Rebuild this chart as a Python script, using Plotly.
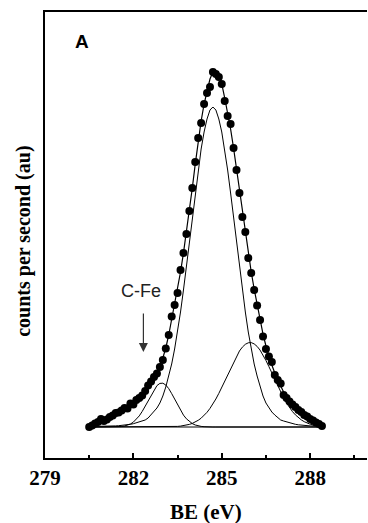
import plotly.graph_objects as go

# Binding energy grid of the C 1s scan (eV)
be_ev = [280.5, 280.6, 280.7, 280.8, 280.9, 281.0, 281.1, 281.2, 281.3, 281.4,
         281.5, 281.6, 281.7, 281.8, 281.9, 282.0, 282.1, 282.2, 282.3, 282.4,
         282.5, 282.6, 282.7, 282.8, 282.9, 283.0, 283.1, 283.2, 283.3, 283.4,
         283.5, 283.6, 283.7, 283.8, 283.9, 284.0, 284.1, 284.2, 284.3, 284.4,
         284.5, 284.6, 284.7, 284.8, 284.9, 285.0, 285.1, 285.2, 285.3, 285.4,
         285.5, 285.6, 285.7, 285.8, 285.9, 286.0, 286.1, 286.2, 286.3, 286.4,
         286.5, 286.6, 286.7, 286.8, 286.9, 287.0, 287.1, 287.2, 287.3, 287.4,
         287.5, 287.6, 287.7, 287.8, 287.9, 288.0, 288.1, 288.2, 288.3, 288.4]

# Measured counts (au)
measured = [31, 32.5, 34.5, 36, 39, 37, 38.5, 41, 42.5, 45,
            45.5, 47.5, 50, 49.5, 54.5, 53.5, 58, 60, 62.5, 67,
            72.5, 76.5, 81, 84.5, 91, 98, 109.5, 123, 141.5, 153,
            165, 188, 205, 224, 247, 270, 296, 320, 335, 354,
            365, 371, 386, 384, 381, 374, 357, 342, 334, 310,
            288, 265, 241, 226, 200, 185, 168, 152.5, 138, 121.5,
            109, 101.5, 96, 83, 78, 74.5, 63, 60, 56.5, 53.5,
            51, 48, 46, 43, 41.5, 39, 37.5, 35.5, 34, 32]

# Fitted envelope (au)
envelope = [31, 32.5, 34, 35.5, 37, 38.5, 39.5, 41, 42.5, 44,
            45.5, 47, 49, 50.5, 52.5, 54.5, 57, 59.5, 62.5, 66.5,
            71, 76, 81, 86, 92, 100, 110, 123, 138, 153,
            168, 186, 205, 225, 247, 270, 294, 317, 337, 354,
            368, 379, 386, 387, 383, 374, 360, 345, 329, 310,
            289, 267, 245, 224, 204, 186, 169, 153, 138, 124,
            112, 102, 93, 85, 78, 72, 66, 61.5, 57.5, 54,
            51, 48, 45.5, 43, 41, 39, 37, 35.5, 34, 32.5]

# Flat background under the fit (au)
background = 31.0

# Component above background: C-C / C-H near 284.7 eV
comp_main = [0.5, 0.5, 0.5, 0.5, 0.6, 0.7, 0.8, 0.9, 1.0, 1.1,
             1.3, 1.5, 1.8, 2.2, 2.7, 3.3, 4.1, 5, 6, 7,
             9, 12, 15, 19, 24, 31, 40, 51, 63, 78,
             95, 115, 137, 160, 184, 209, 234, 257, 278, 295,
             308, 317, 320, 317, 308, 295, 278, 257, 234, 209,
             184, 160, 137, 115, 95, 78, 63, 51, 40, 31,
             24, 19, 15, 12, 9, 7, 6, 5, 4.1, 3.3,
             2.7, 2.2, 1.8, 1.5, 1.3, 1.1, 1.0, 0.9, 0.8, 0.7]

# Component above background: C-Fe near 283.0 eV
comp_cfe = [0, 0, 0, 0, 0, 0, 0, 0, 0, 0.1,
            0.3, 0.5, 1.0, 1.8, 3.0, 4.9, 7.6, 11.1, 15.6, 20.8,
            26.6, 32.3, 37.5, 41.4, 43.6, 43.8, 42.0, 38.4, 33.4, 27.7,
            22.0, 16.6, 11.9, 8.2, 5.4, 3.4, 2.0, 1.1, 0.6, 0.3,
            0, 0, 0, 0, 0, 0, 0, 0, 0, 0,
            0, 0, 0, 0, 0, 0, 0, 0, 0, 0,
            0, 0, 0, 0, 0, 0, 0, 0, 0, 0,
            0, 0, 0, 0, 0, 0, 0, 0, 0, 0]

# Component above background: C-O near 286.0 eV
comp_co = [0, 0, 0, 0, 0, 0, 0, 0, 0, 0,
           0, 0, 0, 0, 0, 0, 0, 0, 0, 0,
           0, 0, 0, 0, 0, 0, 0.1, 0.2, 0.3, 0.4,
           0.6, 0.9, 1.3, 1.8, 2.6, 3.6, 5.0, 6.7, 8.8, 11.5,
           14.7, 18.6, 23.0, 28.0, 33.6, 39.7, 46.1, 52.6, 59.1, 65.3,
           71.1, 76.0, 79.9, 82.7, 84.2, 84.4, 83.1, 80.6, 76.9, 72.1,
           66.5, 60.4, 53.9, 47.4, 41.0, 34.8, 29.1, 24.0, 19.4, 15.4,
           12.1, 9.3, 7.1, 5.3, 3.9, 2.8, 2.0, 1.4, 0.9, 0.6]

x_ticks = [279, 282, 285, 288]

serif = "Liberation Serif, Times New Roman, serif"
sans = "Liberation Sans, Arial, sans-serif"

fig = go.Figure()

line_style = dict(color="black", width=1)
fig.add_trace(go.Scatter(x=be_ev, y=[background] * len(be_ev), mode="lines",
                         line=line_style, hoverinfo="skip"))
for comp in (comp_cfe, comp_main, comp_co):
    fig.add_trace(go.Scatter(x=be_ev, y=[background + c for c in comp],
                             mode="lines", line=line_style, hoverinfo="skip"))
fig.add_trace(go.Scatter(x=be_ev, y=envelope, mode="lines",
                         line=dict(color="black", width=1.2), hoverinfo="skip"))
fig.add_trace(go.Scatter(x=be_ev, y=measured, mode="markers",
                         marker=dict(color="black", size=8, line=dict(width=0))))

fig.update_layout(
    width=368, height=523,
    margin=dict(l=45, r=1, t=12, b=65),
    paper_bgcolor="white", plot_bgcolor="white",
    showlegend=False,
    xaxis=dict(
        range=[279, 289.93], showgrid=False, zeroline=False,
        showline=True, linecolor="black", linewidth=2, mirror=True,
        tickmode="array", tickvals=x_ticks,
        ticktext=["<b>%d</b>" % t for t in x_ticks],
        ticks="inside", ticklen=5, tickwidth=1.5, tickcolor="black",
        minor=dict(ticks="inside", ticklen=3, tickwidth=1.5, tickcolor="black",
                   tickvals=[280.5, 283.5, 286.5, 289.5]),
        tickfont=dict(family=serif, size=21, color="black"),
    ),
    yaxis=dict(
        range=[0, 446], showgrid=False, zeroline=False,
        showline=True, linecolor="black", linewidth=2,
        ticks="", showticklabels=False,
    ),
    annotations=[
        dict(text="<b>BE (eV)</b>", xref="paper", yref="paper", x=0.5, y=-0.121,
             xanchor="center", yanchor="middle", showarrow=False,
             font=dict(family=serif, size=21, color="black")),
        dict(text="<b>counts per second (au)</b>", xref="paper", yref="paper",
             x=-0.065, y=0.485, textangle=-90, xanchor="center", yanchor="middle",
             showarrow=False,
             font=dict(family=serif, size=20, color="black")),
        dict(text="<b>A</b>", xref="x", yref="y", x=280.24, y=417, showarrow=False,
             xanchor="center", yanchor="middle",
             font=dict(family=sans, size=19, color="black")),
        dict(text="C-Fe", xref="x", yref="y", x=282.26, y=167, showarrow=False,
             xanchor="center", yanchor="middle",
             font=dict(family=sans, size=18, color="#222222")),
        dict(text="", xref="x", yref="y", x=282.34, y=106,
             axref="x", ayref="y", ax=282.34, ay=146,
             showarrow=True, arrowhead=2, arrowsize=1.5, arrowwidth=1.2,
             arrowcolor="#333333"),
    ],
)

fig.write_html("out.html")
